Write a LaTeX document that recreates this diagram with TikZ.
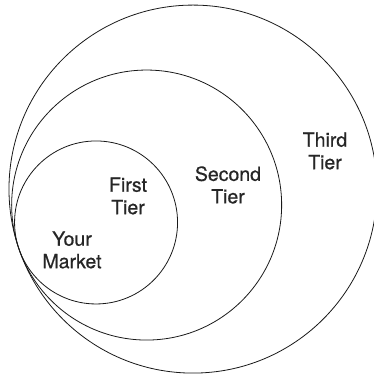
\documentclass[tikz,border=0pt]{standalone}
\usepackage{fontspec}
\setmainfont{TeX Gyre Heros}
\newfontfamily\tierfont[FakeBold=0.6]{TeX Gyre Heros}
\usetikzlibrary{calc}
\tikzset{
  ring/.style={draw=black!90,line width=0.8pt},
  tiertext/.style={align=center,inner sep=0pt,text=black!85,
    font=\tierfont\fontsize{19.5}{22.5}\selectfont}
}
\begin{document}
\begin{tikzpicture}[x=1pt,y=1pt]
\useasboundingbox (0,0) rectangle (374,377);
\coordinate (touch) at (19,128);
% nested tiers, all touching on the left
\foreach \r in {81.5,135,184}
  \draw[ring] ($(touch)+(19:\r)$) circle[radius=\r];
\node[tiertext] (market) at (72,127) {Your\\Market};
\node[tiertext] (first) at (128,181) {First\\Tier};
\node[tiertext] (second) at (228,192) {Second\\Tier};
\node[tiertext] (third) at (325,226) {Third\\Tier};
\end{tikzpicture}
\end{document}
